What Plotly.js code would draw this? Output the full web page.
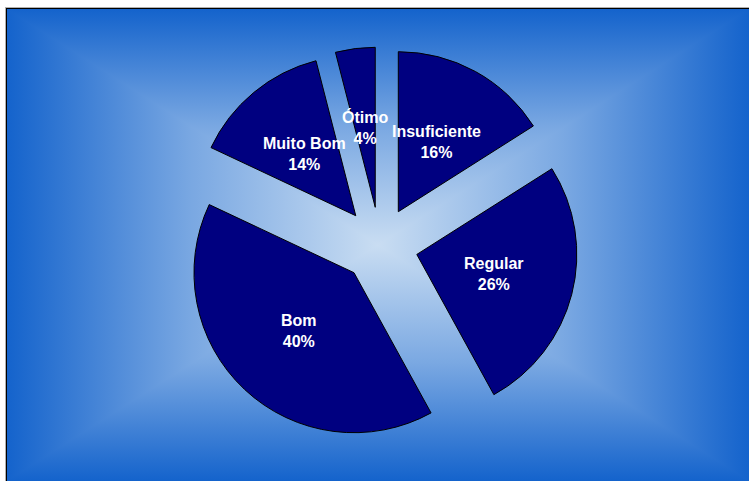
<!DOCTYPE html>
<html>
<head>
<meta charset="utf-8">
<script src="https://cdn.plot.ly/plotly-3.0.1.min.js"></script>
<style>
  html, body { margin: 0; padding: 0; background: #ffffff; }
  #wrap { position: relative; width: 749px; height: 481px; overflow: hidden; }
  #frame { position: absolute; left: 5px; top: 7px; width: 744px; height: 474px; background: #b0b0b0; }
  #frame2 { position: absolute; left: 6px; top: 8px; width: 743px; height: 473px; background: #000000; }
  .bg { position: absolute; left: 7px; top: 9px; width: 742px; height: 472px; }
  #bgBase { background: linear-gradient(to bottom, #1463cc 0px, #7aa8e2 118px, #c9ddf2 236px, #7aa8e2 354px, #1463cc 472px); }
  #bgLeft { background: linear-gradient(to right, #1463cc 0px, #7aa8e2 185px, #c9ddf2 371px); clip-path: polygon(0 0, 0 472px, 371px 236px); }
  #bgRight { background: linear-gradient(to right, #c9ddf2 371px, #7aa8e2 557px, #1463cc 742px); clip-path: polygon(742px 0, 742px 472px, 371px 236px); }
  #chart { position: absolute; left: 0; top: 0; width: 749px; height: 481px; }
</style>
</head>
<body>
<div id="wrap">
  <div id="frame"></div>
  <div id="frame2"></div>
  <div class="bg" id="bgBase"></div>
  <div class="bg" id="bgLeft"></div>
  <div class="bg" id="bgRight"></div>
  <div id="chart"></div>
</div>
<script>
// Data
var categories = ["Insuficiente", "Regular", "Bom", "Muito Bom", "Ótimo"];
var values = [16, 26, 40, 14, 4];

// Layout constants
var W = 749, H = 481;
var pullFrac = 0.2375;
var dom = { x: [182 / W, 578 / W], y: [1 - 443 / H, 1 - 47 / H] };
var labelRadiusFrac = 0.5;

var total = values.reduce(function (a, b) { return a + b; }, 0);

// Pie geometry as Plotly computes it
var boxW = W * (dom.x[1] - dom.x[0]);
var boxH = H * (dom.y[1] - dom.y[0]);
var R = Math.min(boxW, boxH) / (1 + pullFrac) / 2;
var cx = W * (dom.x[0] + dom.x[1]) / 2;
var cy = H * (1 - dom.y[0]) - boxH / 2;

var annotations = [];
var cum = 0;
for (var i = 0; i < values.length; i++) {
  var mid = (cum + values[i] / 2) / total * 2 * Math.PI;
  cum += values[i];
  var rr = (pullFrac + labelRadiusFrac) * R;
  var px = cx + rr * Math.sin(mid);
  var py = cy - rr * Math.cos(mid);
  annotations.push({
    xref: "paper", yref: "paper",
    x: px / W, y: 1 - py / H,
    xanchor: "center", yanchor: "middle",
    showarrow: false,
    text: categories[i] + "<br>" + Math.round(values[i] / total * 100) + "%",
    font: { family: "Liberation Sans, Arial, sans-serif", size: 16, color: "#ffffff", weight: "bold" },
    align: "center"
  });
}

var trace = {
  type: "pie",
  labels: categories,
  values: values,
  sort: false,
  direction: "clockwise",
  rotation: 0,
  pull: values.map(function () { return pullFrac; }),
  marker: {
    colors: values.map(function () { return "#000080"; }),
    line: { color: "#000000", width: 1 }
  },
  textinfo: "none",
  hoverinfo: "label+percent",
  domain: dom
};

var layout = {
  width: W, height: H,
  margin: { l: 0, r: 0, t: 0, b: 0 },
  paper_bgcolor: "rgba(0,0,0,0)",
  plot_bgcolor: "rgba(0,0,0,0)",
  showlegend: false,
  annotations: annotations
};

Plotly.newPlot("chart", [trace], layout, { displayModeBar: false, staticPlot: true });
</script>
</body>
</html>
